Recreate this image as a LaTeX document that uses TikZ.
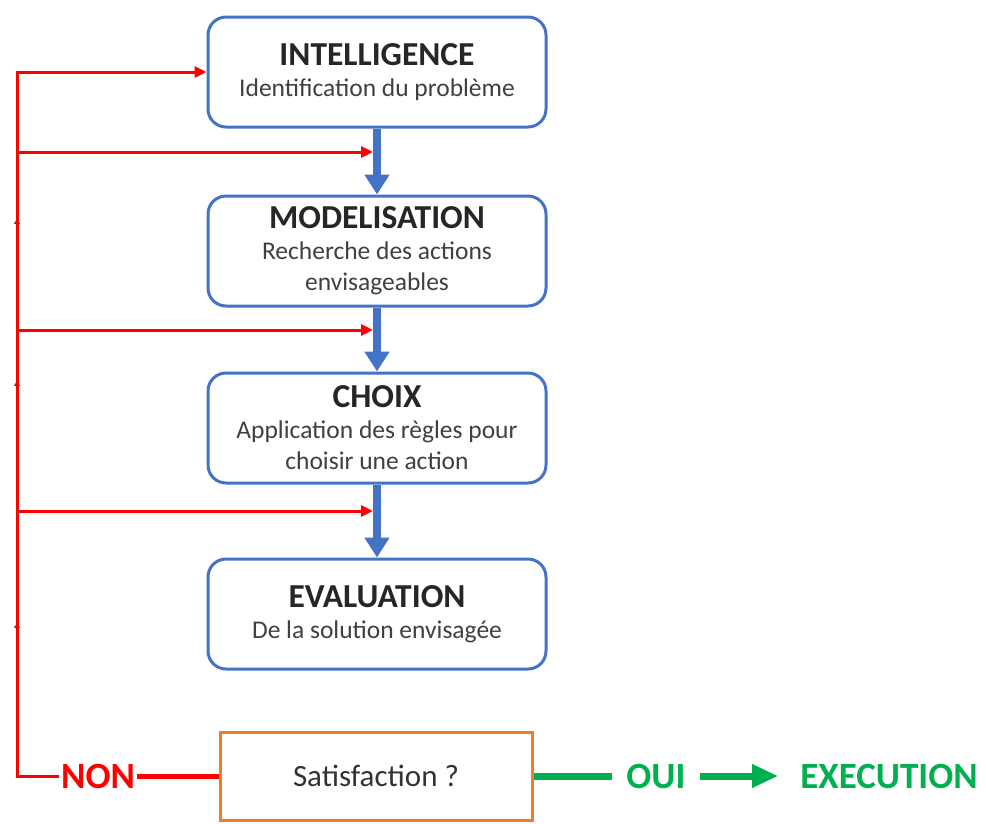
\documentclass[tikz,border=0pt]{standalone}
\usepackage{fontspec}
\setmainfont{Carlito}
\usetikzlibrary{shapes,arrows.meta,positioning,calc,decorations.markings}
\definecolor{bleu}{HTML}{4472C4}
\definecolor{orange}{HTML}{ED7D31}
\definecolor{rouge}{HTML}{FF0000}
\definecolor{vert}{HTML}{00B050}
\definecolor{gris}{HTML}{404040}
\newcommand{\titre}[1]{{\fontsize{33.5}{33}\selectfont\bfseries\color{black!85}#1}}

\begin{document}
\begin{tikzpicture}[x=1pt, y=-1pt, every node/.style={align=center}]
        % styles des noeuds
        \tikzstyle{phase} = [rectangle, rounded corners=18pt, minimum width=338pt, minimum height=110pt, text centered, draw=bleu, line width=3pt, fill=white, font=\fontsize{25.5}{31}\selectfont, text=gris]
        \tikzstyle{test} = [rectangle, minimum width=312pt, minimum height=88pt, text centered, draw=orange, line width=3pt, fill=white, font=\fontsize{31}{34}\selectfont, text=black!80]
        \tikzstyle{etiq} = [font=\fontsize{37}{40}\selectfont\bfseries, inner sep=2pt]
        \tikzstyle{suite} = [draw=bleu, line width=8pt, -{Triangle[width=24pt,length=20pt]}]
        \tikzstyle{retour} = [draw=rouge, line width=3pt, -{Triangle[width=11pt,length=12pt]}]
        \tikzstyle{fleche} = [draw=vert, line width=7pt]

        \useasboundingbox (0,0) rectangle (986,823);

        % noeuds
        \node (intel) [phase] at (377,72) {\titre{INTELLIGENCE}\\ Identification du problème};
        \node (model) [phase] at (377,251) {\titre{MODELISATION}\\ Recherche des actions\\ envisageables};
        \node (choix) [phase] at (377,428) {\titre{CHOIX}\\ Application des règles pour\\ choisir une action};
        \node (eval) [phase] at (377,614) {\titre{EVALUATION}\\ De la solution envisagée};
        \node (satis) [test] at (376,776) {Satisfaction ?};
        \node (non) [etiq, text=rouge] at (98,776) {NON};
        \node (oui) [etiq, text=vert, inner xsep=14pt] at (656,776) {OUI};
        \node (exec) [etiq, text=vert, inner xsep=22pt] at (889,776) {EXECUTION};

        % points de passage de la boucle
        \coordinate (bas) at (17,776);
        \coordinate (haut) at (intel.west -| bas);
        \coordinate (b1) at (17,152);
        \coordinate (b2) at (17,330);
        \coordinate (b3) at (17,511);
        \coordinate (c1) at (373,152);
        \coordinate (c2) at (373,330);
        \coordinate (c3) at (373,511);

        % liaisons
        \draw [suite] (intel) -- (model);
        \draw [suite] (model) -- (choix);
        \draw [suite] (choix) -- (eval);
        \draw [retour, line width=5pt, -] (satis) -- (non);
        \draw [retour, postaction={decorate}, decoration={markings,
            mark=at position 195pt with {\arrow[rouge]{Triangle[width=6pt,length=5pt]}},
            mark=at position 437pt with {\arrow[rouge]{Triangle[width=6pt,length=5pt]}},
            mark=at position 599pt with {\arrow[rouge]{Triangle[width=6pt,length=5pt]}}}]
            (non.west) -- (bas) -- (haut) -- (intel.west);
        \draw [retour] (b1) -- (c1);
        \draw [retour] (b2) -- (c2);
        \draw [retour] (b3) -- (c3);
        \draw [fleche] (satis) -- (oui);
        \draw [fleche, -{Triangle[width=22pt,length=26pt]}] (oui) -- (exec);
\end{tikzpicture}
\end{document}
